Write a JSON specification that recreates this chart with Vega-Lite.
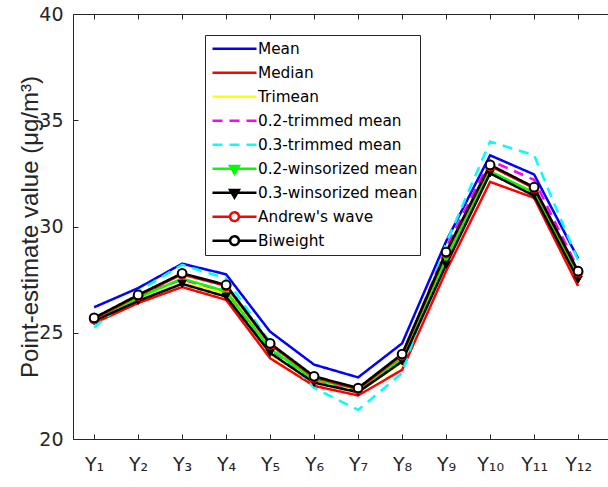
{
  "$schema": "https://vega.github.io/schema/vega-lite/v6.json",
  "width": 535,
  "height": 425,
  "autosize": "none",
  "padding": {"left": 73, "top": 14, "right": 0, "bottom": 48},
  "background": "white",
  "config": {
    "view": {"stroke": null},
    "font": "DejaVu Sans",
    "axis": {
      "grid": false,
      "domainColor": "#262626",
      "tickColor": "#262626",
      "labelColor": "#262626",
      "titleColor": "#262626",
      "domainWidth": 1,
      "tickWidth": 1,
      "tickSize": -5,
      "labelOverlap": false,
      "labelFlush": false
    }
  },
  "data": {
    "values": [
      {"t": 1, "estimator": "Mean", "value": 26.2},
      {"t": 1, "estimator": "Median", "value": 25.45},
      {"t": 1, "estimator": "Trimean", "value": 25.55},
      {"t": 1, "estimator": "0.2-trimmed mean", "value": 25.6},
      {"t": 1, "estimator": "0.3-trimmed mean", "value": 25.25},
      {"t": 1, "estimator": "0.2-winsorized mean", "value": 25.65},
      {"t": 1, "estimator": "0.3-winsorized mean", "value": 25.55},
      {"t": 1, "estimator": "Andrew's wave", "value": 25.65},
      {"t": 1, "estimator": "Biweight", "value": 25.7},
      {"t": 2, "estimator": "Mean", "value": 27.1},
      {"t": 2, "estimator": "Median", "value": 26.4},
      {"t": 2, "estimator": "Trimean", "value": 26.55},
      {"t": 2, "estimator": "0.2-trimmed mean", "value": 26.75},
      {"t": 2, "estimator": "0.3-trimmed mean", "value": 26.95},
      {"t": 2, "estimator": "0.2-winsorized mean", "value": 26.65},
      {"t": 2, "estimator": "0.3-winsorized mean", "value": 26.5},
      {"t": 2, "estimator": "Andrew's wave", "value": 26.75},
      {"t": 2, "estimator": "Biweight", "value": 26.78},
      {"t": 3, "estimator": "Mean", "value": 28.25},
      {"t": 3, "estimator": "Median", "value": 27.15},
      {"t": 3, "estimator": "Trimean", "value": 27.35},
      {"t": 3, "estimator": "0.2-trimmed mean", "value": 27.5},
      {"t": 3, "estimator": "0.3-trimmed mean", "value": 28.2},
      {"t": 3, "estimator": "0.2-winsorized mean", "value": 27.55},
      {"t": 3, "estimator": "0.3-winsorized mean", "value": 27.3},
      {"t": 3, "estimator": "Andrew's wave", "value": 27.75},
      {"t": 3, "estimator": "Biweight", "value": 27.8},
      {"t": 4, "estimator": "Mean", "value": 27.75},
      {"t": 4, "estimator": "Median", "value": 26.55},
      {"t": 4, "estimator": "Trimean", "value": 26.85},
      {"t": 4, "estimator": "0.2-trimmed mean", "value": 26.95},
      {"t": 4, "estimator": "0.3-trimmed mean", "value": 27.55},
      {"t": 4, "estimator": "0.2-winsorized mean", "value": 26.95},
      {"t": 4, "estimator": "0.3-winsorized mean", "value": 26.7},
      {"t": 4, "estimator": "Andrew's wave", "value": 27.2},
      {"t": 4, "estimator": "Biweight", "value": 27.25},
      {"t": 5, "estimator": "Mean", "value": 25.05},
      {"t": 5, "estimator": "Median", "value": 23.8},
      {"t": 5, "estimator": "Trimean", "value": 24.0},
      {"t": 5, "estimator": "0.2-trimmed mean", "value": 24.2},
      {"t": 5, "estimator": "0.3-trimmed mean", "value": 24.55},
      {"t": 5, "estimator": "0.2-winsorized mean", "value": 24.25},
      {"t": 5, "estimator": "0.3-winsorized mean", "value": 24.05},
      {"t": 5, "estimator": "Andrew's wave", "value": 24.45},
      {"t": 5, "estimator": "Biweight", "value": 24.5},
      {"t": 6, "estimator": "Mean", "value": 23.5},
      {"t": 6, "estimator": "Median", "value": 22.5},
      {"t": 6, "estimator": "Trimean", "value": 22.7},
      {"t": 6, "estimator": "0.2-trimmed mean", "value": 22.8},
      {"t": 6, "estimator": "0.3-trimmed mean", "value": 22.4},
      {"t": 6, "estimator": "0.2-winsorized mean", "value": 22.8},
      {"t": 6, "estimator": "0.3-winsorized mean", "value": 22.65},
      {"t": 6, "estimator": "Andrew's wave", "value": 22.9},
      {"t": 6, "estimator": "Biweight", "value": 22.95},
      {"t": 7, "estimator": "Mean", "value": 22.9},
      {"t": 7, "estimator": "Median", "value": 22.05},
      {"t": 7, "estimator": "Trimean", "value": 22.2},
      {"t": 7, "estimator": "0.2-trimmed mean", "value": 22.25},
      {"t": 7, "estimator": "0.3-trimmed mean", "value": 21.37},
      {"t": 7, "estimator": "0.2-winsorized mean", "value": 22.35},
      {"t": 7, "estimator": "0.3-winsorized mean", "value": 22.2},
      {"t": 7, "estimator": "Andrew's wave", "value": 22.35},
      {"t": 7, "estimator": "Biweight", "value": 22.4},
      {"t": 8, "estimator": "Mean", "value": 24.5},
      {"t": 8, "estimator": "Median", "value": 23.25},
      {"t": 8, "estimator": "Trimean", "value": 23.6},
      {"t": 8, "estimator": "0.2-trimmed mean", "value": 23.8},
      {"t": 8, "estimator": "0.3-trimmed mean", "value": 23.1},
      {"t": 8, "estimator": "0.2-winsorized mean", "value": 23.8},
      {"t": 8, "estimator": "0.3-winsorized mean", "value": 23.65},
      {"t": 8, "estimator": "Andrew's wave", "value": 23.95},
      {"t": 8, "estimator": "Biweight", "value": 24.0},
      {"t": 9, "estimator": "Mean", "value": 29.3},
      {"t": 9, "estimator": "Median", "value": 27.9},
      {"t": 9, "estimator": "Trimean", "value": 28.3},
      {"t": 9, "estimator": "0.2-trimmed mean", "value": 29.0},
      {"t": 9, "estimator": "0.3-trimmed mean", "value": 29.2},
      {"t": 9, "estimator": "0.2-winsorized mean", "value": 28.5},
      {"t": 9, "estimator": "0.3-winsorized mean", "value": 28.2},
      {"t": 9, "estimator": "Andrew's wave", "value": 28.75},
      {"t": 9, "estimator": "Biweight", "value": 28.8},
      {"t": 10, "estimator": "Mean", "value": 33.35},
      {"t": 10, "estimator": "Median", "value": 32.1},
      {"t": 10, "estimator": "Trimean", "value": 32.5},
      {"t": 10, "estimator": "0.2-trimmed mean", "value": 33.1},
      {"t": 10, "estimator": "0.3-trimmed mean", "value": 34.0},
      {"t": 10, "estimator": "0.2-winsorized mean", "value": 32.6},
      {"t": 10, "estimator": "0.3-winsorized mean", "value": 32.5},
      {"t": 10, "estimator": "Andrew's wave", "value": 32.85},
      {"t": 10, "estimator": "Biweight", "value": 32.9},
      {"t": 11, "estimator": "Mean", "value": 32.45},
      {"t": 11, "estimator": "Median", "value": 31.35},
      {"t": 11, "estimator": "Trimean", "value": 31.5},
      {"t": 11, "estimator": "0.2-trimmed mean", "value": 32.2},
      {"t": 11, "estimator": "0.3-trimmed mean", "value": 33.35},
      {"t": 11, "estimator": "0.2-winsorized mean", "value": 31.6},
      {"t": 11, "estimator": "0.3-winsorized mean", "value": 31.45},
      {"t": 11, "estimator": "Andrew's wave", "value": 31.8},
      {"t": 11, "estimator": "Biweight", "value": 31.85},
      {"t": 12, "estimator": "Mean", "value": 28.5},
      {"t": 12, "estimator": "Median", "value": 27.2},
      {"t": 12, "estimator": "Trimean", "value": 27.5},
      {"t": 12, "estimator": "0.2-trimmed mean", "value": 28.0},
      {"t": 12, "estimator": "0.3-trimmed mean", "value": 28.4},
      {"t": 12, "estimator": "0.2-winsorized mean", "value": 27.7},
      {"t": 12, "estimator": "0.3-winsorized mean", "value": 27.5},
      {"t": 12, "estimator": "Andrew's wave", "value": 27.85},
      {"t": 12, "estimator": "Biweight", "value": 27.9}
    ]
  },
  "layer": [
    {
      "encoding": {
        "x": {
          "field": "t",
          "type": "quantitative",
          "scale": {"domain": [0.52, 12.68], "nice": false, "zero": false},
          "axis": {
            "orient": "bottom",
            "title": null,
            "values": [1, 2, 3, 4, 5, 6, 7, 8, 9, 10, 11, 12],
            "labelExpr": "['Y₁','Y₂','Y₃','Y₄','Y₅','Y₆','Y₇','Y₈','Y₉','Y₁₀','Y₁₁','Y₁₂'][datum.value - 1]",
            "labelFontSize": 19,
            "labelPadding": 21
          }
        },
        "y": {
          "field": "value",
          "type": "quantitative",
          "scale": {"domain": [20, 40], "nice": false, "zero": false},
          "axis": {
            "values": [20, 25, 30, 35, 40],
            "labelFontSize": 19,
            "labelPadding": 15,
            "title": "Point-estimate value (μg/m³)",
            "titleFont": "Liberation Sans",
            "titleFontSize": 24,
            "titleFontWeight": "normal",
            "titleX": -31,
            "titleBaseline": "bottom"
          }
        },
        "color": {
          "field": "estimator",
          "type": "nominal",
          "scale": {
            "domain": ["Mean", "Median", "Trimean", "0.2-trimmed mean", "0.3-trimmed mean", "0.2-winsorized mean", "0.3-winsorized mean", "Andrew's wave", "Biweight"],
            "range": ["#0000ff", "#ff0000", "#ffff00", "#ff00ff", "#00ffff", "#00ff00", "#000000", "#ff0000", "#000000"]
          },
          "legend": {
            "title": null,
            "orient": "none",
            "legendX": 132,
            "legendY": 21,
            "padding": 2,
            "cornerRadius": 0,
            "strokeColor": "#262626",
            "fillColor": "white",
            "rowPadding": 0,
            "clipHeight": 23.4,
            "symbolSize": 1936,
            "symbolStrokeWidth": 2.5,
            "symbolOffset": 4,
            "labelOffset": 0,
            "labelFont": "DejaVu Sans",
            "labelFontSize": 15.3,
            "labelColor": "#000000",
            "labelLimit": 400,
            "encode": {
              "symbols": {
                "update": {
                  "shape": {"signal": "indexof(datum.value, 'winsorized') >= 0 ? 'M-1,0L1,0M-0.2,-0.12L0.2,-0.12L0,0.22Z' : (datum.value === 'Biweight' || indexof(datum.value, 'wave') >= 0) ? 'M-1,0L-0.2,0M0.2,0L1,0M-0.2,0A0.2,0.2,0,1,1,0.2,0A0.2,0.2,0,1,1,-0.2,0Z' : 'M-1,0L1,0'"},
                  "fill": {"signal": "datum.value === '0.2-winsorized mean' ? '#00ff00' : datum.value === '0.3-winsorized mean' ? '#000000' : (datum.value === 'Biweight' || indexof(datum.value, 'wave') >= 0) ? '#ffffff' : 'transparent'"},
                  "strokeDash": {"signal": "indexof(datum.value, 'trimmed') >= 0 ? [10, 7] : [1, 0]"},
                  "strokeWidth": {"value": 2.5},
                  "opacity": {"value": 1}
                }
              }
            }
          }
        }
      },
      "layer": [
        {
          "mark": {"type": "line", "strokeWidth": 2.5},
          "encoding": {
            "strokeDash": {
              "field": "estimator",
              "type": "nominal",
              "scale": {
                "domain": ["Mean", "Median", "Trimean", "0.2-trimmed mean", "0.3-trimmed mean", "0.2-winsorized mean", "0.3-winsorized mean", "Andrew's wave", "Biweight"],
                "range": [[1, 0], [1, 0], [1, 0], [10, 7], [10, 7], [1, 0], [1, 0], [1, 0], [1, 0]]
              }
            }
          }
        },
        {
          "transform": [{"filter": {"field": "estimator", "oneOf": ["0.2-winsorized mean", "0.3-winsorized mean"]}}],
          "mark": {"type": "point", "shape": "triangle-down", "filled": false, "strokeWidth": 1, "size": 70, "opacity": 1},
          "encoding": {
            "fill": {
              "field": "estimator",
              "type": "nominal",
              "scale": {"domain": ["0.2-winsorized mean", "0.3-winsorized mean"], "range": ["#00ff00", "#000000"]},
              "legend": null
            }
          }
        },
        {
          "transform": [{"filter": {"field": "estimator", "oneOf": ["Andrew's wave", "Biweight"]}}],
          "mark": {"type": "point", "shape": "circle", "filled": false, "fill": "white", "strokeWidth": 2, "size": 75, "opacity": 1}
        }
      ]
    },
    {
      "mark": {"type": "rule", "opacity": 0},
      "encoding": {
        "x": {
          "field": "t",
          "type": "quantitative",
          "scale": {"domain": [0.52, 12.68], "nice": false, "zero": false},
          "axis": {
            "orient": "top",
            "title": null,
            "labels": false,
            "values": [1, 2, 3, 4, 5, 6, 7, 8, 9, 10, 11, 12]
          }
        }
      }
    }
  ],
  "resolve": {"axis": {"x": "independent"}}
}
